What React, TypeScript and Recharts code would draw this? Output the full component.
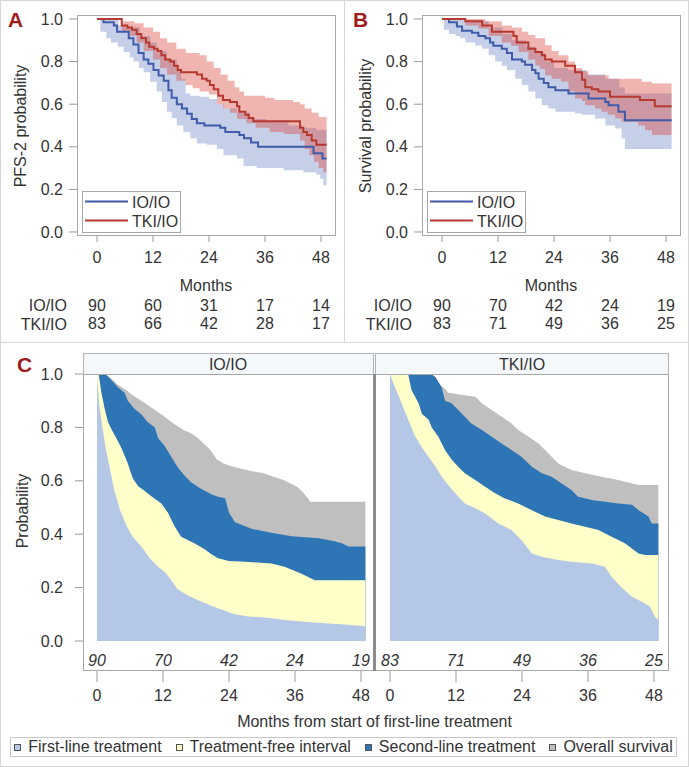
import React from "react";
import { ComposedChart, Area, Line, XAxis, YAxis } from "recharts";

type Pt = [number, number];

const FONT = '"Liberation Sans", Arial, Helvetica, sans-serif';
const TEXT = "#333333";
const TICK = "#9a9a9a";
const FRAME = "#a8a8a8";
const LETTER = "#a01c1c";

const IO_LINE = "#3f5ba9";
const TKI_LINE = "#b5392f";
const IO_BAND = "#6f86c6";
const TKI_BAND = "#d9453d";

const C_FIRST = "#b4c7e7";
const C_TFI = "#ffffc9";
const C_SECOND = "#2e75b6";
const C_OS = "#bfbfbf";

const monthTicks = [0, 12, 24, 36, 48];
const probTicks = [0, 0.2, 0.4, 0.6, 0.8, 1.0];
const arms = ["IO/IO", "TKI/IO"];

// ---------- Panel A : PFS-2 ----------
const pfsRiskIO = [90, 60, 31, 17, 14];
const pfsRiskTKI = [83, 66, 42, 28, 17];
const pfsIO: Pt[] = [[0,1],[1.4,0.985],[3.6,0.97],[4.3,0.94],[6.8,0.91],[7.8,0.88],[8.9,0.84],[10,0.81],[11,0.79],[12.1,0.76],[13.2,0.735],[14.3,0.71],[15.3,0.665],[16,0.63],[17.1,0.6],[18.2,0.58],[19.3,0.555],[20.3,0.53],[21.4,0.51],[23,0.5],[26.4,0.49],[27.5,0.47],[30.5,0.455],[31.5,0.44],[33,0.42],[34.5,0.4],[46.4,0.37],[48.3,0.345],[49.2,0.345]];
const pfsIOLow: Pt[] = [[0,1],[0.7,0.94],[2,0.91],[3,0.89],[4.5,0.87],[5.7,0.845],[7,0.82],[7.8,0.8],[9,0.77],[10,0.75],[11.4,0.705],[12.8,0.66],[13.9,0.61],[15,0.565],[16,0.535],[17.1,0.5],[18.5,0.47],[20,0.44],[21.4,0.415],[23.5,0.41],[25.7,0.39],[27.1,0.36],[30,0.345],[31.4,0.31],[34.2,0.3],[40,0.29],[44.2,0.28],[47,0.27],[47.8,0.25],[48.5,0.22],[49.2,0.22]];
const pfsIOHigh: Pt[] = [[0,1],[4.6,0.97],[6,0.96],[9.2,0.92],[11.4,0.89],[12.8,0.85],[15,0.81],[17.1,0.76],[18,0.72],[19,0.65],[20,0.64],[22,0.635],[24,0.625],[25.7,0.6],[27.1,0.58],[30,0.56],[32.8,0.53],[36.4,0.52],[41,0.5],[44,0.49],[47,0.48],[49.2,0.47]];
const pfsTKI: Pt[] = [[0,1],[5.3,0.97],[6.5,0.96],[7.5,0.95],[8.5,0.93],[9.5,0.91],[10.5,0.89],[11.2,0.87],[12.2,0.86],[13,0.85],[13.8,0.83],[14.6,0.81],[15.7,0.8],[16.5,0.78],[17.3,0.76],[18,0.75],[21.4,0.74],[22.5,0.72],[23.5,0.71],[24.2,0.69],[25,0.67],[26,0.64],[27,0.62],[28.5,0.61],[30,0.59],[30.5,0.565],[31.8,0.55],[32.5,0.535],[33.5,0.52],[43.5,0.49],[44.2,0.47],[45,0.455],[46,0.43],[47,0.41],[49.2,0.41]];
const pfsTKILow: Pt[] = [[0,1],[5.3,0.94],[7,0.92],[8.5,0.89],[10,0.85],[12,0.81],[13.5,0.77],[15,0.74],[17,0.71],[19,0.69],[20.5,0.675],[22,0.66],[24,0.645],[25.7,0.6],[27,0.58],[28.5,0.56],[30,0.53],[32,0.51],[34,0.49],[37,0.47],[40,0.46],[43.5,0.43],[44.5,0.39],[45.5,0.36],[46.5,0.33],[47.5,0.3],[48.5,0.28],[49.2,0.28]];
const pfsTKIHigh: Pt[] = [[0,1],[5.3,0.99],[8,0.98],[10,0.96],[12,0.94],[13.5,0.91],[15,0.89],[17,0.86],[19,0.84],[22,0.83],[23.5,0.8],[25,0.77],[26.5,0.74],[28,0.71],[29.5,0.68],[30.5,0.66],[31.5,0.64],[36,0.63],[38,0.62],[42,0.61],[43.5,0.6],[44.5,0.58],[46,0.56],[47.5,0.54],[49.2,0.53]];

// ---------- Panel B : overall survival ----------
const osRiskIO = [90, 70, 42, 24, 19];
const osRiskTKI = [83, 71, 49, 36, 25];
const osIO: Pt[] = [[0,1],[1.5,0.985],[3.2,0.965],[4.3,0.945],[6.4,0.935],[7.8,0.92],[9.3,0.91],[10.3,0.89],[11,0.875],[12.8,0.86],[13.9,0.84],[15,0.81],[17.1,0.8],[17.8,0.785],[19.3,0.76],[20,0.745],[20.7,0.72],[21.8,0.7],[22.8,0.68],[24.3,0.665],[27.1,0.65],[31.4,0.627],[35,0.61],[35.7,0.595],[37.8,0.565],[39.2,0.525],[49.2,0.525]];
const osIOLow: Pt[] = [[0,1],[0.4,0.95],[1.5,0.93],[2.9,0.92],[3.9,0.91],[5,0.89],[7.1,0.876],[8.6,0.86],[10,0.83],[11.4,0.8],[12.8,0.78],[13.9,0.76],[15.7,0.72],[17.1,0.69],[18.5,0.66],[20,0.627],[21.4,0.595],[22.8,0.58],[24.3,0.564],[28.5,0.556],[30,0.55],[32.8,0.533],[35,0.5],[37.1,0.486],[38.5,0.44],[39.2,0.39],[49.2,0.39]];
const osIOHigh: Pt[] = [[0,1],[3,1],[5,0.99],[10,0.96],[13,0.93],[15,0.9],[18,0.87],[20,0.84],[22,0.8],[24,0.77],[27,0.76],[31,0.74],[35,0.72],[38,0.68],[39.2,0.65],[49.2,0.65]];
const osTKI: Pt[] = [[0,1],[5,0.99],[8.6,0.97],[10.7,0.94],[15.3,0.92],[16,0.89],[18.5,0.86],[20,0.845],[21.4,0.83],[22.1,0.81],[23.5,0.8],[26.4,0.78],[28.5,0.75],[30,0.715],[30.7,0.68],[32.1,0.67],[33.5,0.66],[36,0.635],[42.4,0.62],[45.6,0.59],[49.2,0.59]];
const osTKILow: Pt[] = [[0,1],[5,0.97],[7.8,0.955],[10,0.92],[12.8,0.89],[14.8,0.875],[16.4,0.845],[18.5,0.81],[20,0.78],[21,0.765],[22.1,0.736],[23.5,0.72],[25.5,0.705],[27.1,0.66],[28.5,0.627],[30,0.615],[30.7,0.595],[32.8,0.58],[34.2,0.564],[35.5,0.55],[37.1,0.533],[38.5,0.517],[42,0.5],[43.5,0.478],[45,0.455],[49.2,0.455]];
const osTKIHigh: Pt[] = [[0,1],[9.3,0.99],[12.8,0.97],[15,0.96],[17.1,0.94],[18.5,0.925],[20,0.91],[22.1,0.877],[23.5,0.85],[25,0.83],[27.1,0.8],[28.5,0.77],[30,0.755],[31.4,0.736],[35.7,0.72],[42.8,0.705],[45,0.697],[49.2,0.697]];

// ---------- Panel C : treatment states (cumulative upper bounds) ----------
const stateRiskIO = [90, 70, 42, 24, 19];
const stateRiskTKI = [83, 71, 49, 36, 25];
const stateNames = ["First-line treatment", "Treatment-free interval", "Second-line treatment", "Overall survival"];

const firstLineIO: Pt[] = [[0,1],[0.1,0.96],[0.5,0.87],[1,0.8],[1.6,0.72],[2.3,0.65],[3.2,0.56],[4.2,0.49],[5.4,0.43],[6.5,0.39],[8,0.355],[9.6,0.31],[11,0.28],[12.5,0.255],[13.6,0.225],[14.6,0.195],[16.5,0.17],[18.7,0.15],[21,0.13],[23,0.115],[25,0.1],[27.5,0.092],[31,0.087],[35,0.077],[40,0.068],[45,0.062],[48.8,0.055]];
const tfiIO: Pt[] = [[0,1],[0.3,1],[0.8,0.93],[1.4,0.87],[2,0.82],[2.7,0.79],[3.5,0.76],[4.5,0.72],[5.5,0.67],[6.5,0.61],[7.5,0.58],[8.5,0.565],[10,0.54],[11.7,0.515],[12.9,0.48],[14.1,0.43],[15.3,0.39],[17.7,0.366],[19.5,0.345],[20.8,0.325],[22,0.31],[24,0.3],[26.8,0.297],[31.7,0.29],[34.1,0.278],[37.1,0.253],[39.6,0.228],[48.8,0.228]];
const secondLineIO: Pt[] = [[0,1],[1.5,1],[2.5,0.98],[3.8,0.95],[5,0.93],[5.6,0.9],[6.8,0.87],[8,0.85],[9.2,0.82],[10.5,0.8],[11.1,0.76],[12.3,0.73],[13.5,0.69],[14.7,0.65],[15.9,0.62],[17.1,0.595],[18.9,0.57],[20.8,0.55],[22,0.54],[23.3,0.535],[24,0.48],[25.1,0.445],[28.1,0.42],[31.7,0.405],[35.4,0.392],[40.3,0.385],[43,0.375],[44.5,0.366],[45.7,0.354],[48.8,0.354]];
const survivalIO: Pt[] = [[0,1],[1.5,1],[2.5,0.985],[3.8,0.96],[5.3,0.94],[6.5,0.92],[8.4,0.895],[10.2,0.87],[12,0.845],[13.9,0.815],[15.7,0.79],[16.9,0.78],[18.1,0.765],[19.4,0.74],[20.6,0.715],[21.8,0.68],[23,0.665],[24.8,0.653],[27.2,0.64],[30.3,0.628],[32.1,0.615],[33.9,0.603],[35.2,0.59],[36.4,0.578],[37.6,0.553],[38.8,0.522],[48.8,0.522]];

const firstLineTKI: Pt[] = [[0,1],[0.9,0.95],[2.1,0.89],[3.3,0.83],[4.5,0.77],[5.8,0.725],[7,0.69],[8.2,0.655],[9.4,0.615],[11.2,0.568],[13.6,0.515],[15.5,0.497],[17.3,0.478],[19.7,0.44],[22.1,0.416],[23.9,0.378],[25.8,0.328],[27.6,0.316],[30.6,0.303],[33,0.297],[36.7,0.29],[39.1,0.278],[40.3,0.24],[42.1,0.2],[44,0.166],[45.8,0.147],[47.3,0.128],[48.2,0.09],[48.8,0.079]];
const tfiTKI: Pt[] = [[0,1],[3.3,1],[3.9,0.94],[5.2,0.89],[5.8,0.85],[7,0.83],[7.6,0.8],[8.8,0.765],[10,0.715],[11.2,0.68],[12.4,0.653],[13.6,0.628],[15.5,0.603],[17.3,0.578],[19.1,0.553],[20.9,0.534],[23.3,0.515],[25.8,0.49],[28.2,0.466],[30.6,0.453],[33,0.44],[35.5,0.428],[37.9,0.416],[40.3,0.39],[42.7,0.366],[45.2,0.328],[46.4,0.322],[48.8,0.322]];
const secondLineTKI: Pt[] = [[0,1],[7.5,1],[8.2,0.99],[9.4,0.95],[10,0.9],[11.2,0.89],[12.4,0.865],[13.6,0.84],[14.8,0.815],[16.7,0.79],[18.5,0.765],[20.3,0.74],[22.1,0.715],[23.9,0.69],[25.8,0.653],[27.6,0.628],[29.4,0.615],[31.2,0.59],[33,0.566],[34.2,0.54],[36.7,0.528],[39.1,0.522],[41.5,0.515],[44,0.51],[45.2,0.49],[47,0.466],[47.6,0.44],[48.8,0.44]];
const survivalTKI: Pt[] = [[0,1],[5,1],[8.2,0.99],[9.1,0.96],[10,0.945],[10.6,0.93],[15.5,0.915],[16.7,0.89],[18.5,0.865],[20.3,0.84],[22.1,0.815],[23.3,0.79],[25.2,0.765],[27,0.74],[28.2,0.715],[29.4,0.69],[30.6,0.665],[31.8,0.653],[33,0.64],[35.5,0.628],[38.5,0.615],[41.5,0.603],[44,0.59],[45.2,0.584],[48.8,0.584]];

// ---------- helpers ----------
const stepAt = (s: Pt[], x: number) => {
  let v = s[0][1];
  for (const [px, py] of s) {
    if (px <= x) v = py;
    else break;
  }
  return v;
};
const toRows = (s: Pt[]) => s.map(([x, y]) => ({ x, y }));
const toBand = (lo: Pt[], hi: Pt[]) => {
  const xs = Array.from(new Set([...lo, ...hi].map((p) => p[0]))).sort((a, b) => a - b);
  return xs.map((x) => ({ x, band: [stepAt(lo, x), stepAt(hi, x)] }));
};
const fmt1 = (v: number) => v.toFixed(1);

// ---------- KM panel (A / B) ----------
const KM_W = 345;
const KM_H = 342;
const KM_L = 77;
const KM_T = 15;
const KM_R = 335;
const KM_B = 235;

type KMProps = {
  ox: number;
  letter: string;
  yTitle: string;
  io: Pt[]; ioLo: Pt[]; ioHi: Pt[];
  tki: Pt[]; tkiLo: Pt[]; tkiHi: Pt[];
  riskIO: number[]; riskTKI: number[];
};

function KMPanel(p: KMProps) {
  const tick = (props: any) => {
    const { x, y, payload } = props;
    const i = monthTicks.indexOf(payload.value);
    return (
      <g fontFamily={FONT} fontSize={16} fill={TEXT}>
        <text x={x} y={y + 18} textAnchor="middle" fill={TEXT}>{payload.value}</text>
        <text x={x} y={y + 66} textAnchor="middle" fill={TEXT}>{p.riskIO[i]}</text>
        <text x={x} y={y + 84} textAnchor="middle" fill={TEXT}>{p.riskTKI[i]}</text>
      </g>
    );
  };
  const midX = (KM_L + KM_R) / 2;
  return (
    <div style={{ position: "absolute", left: p.ox, top: 0, width: KM_W, height: KM_H }}>
      <ComposedChart width={KM_W} height={KM_H} margin={{ top: KM_T, right: KM_W - KM_R, bottom: 0, left: 0 }}>
        <XAxis type="number" dataKey="x" domain={[-4.29, 51.0]} ticks={monthTicks} interval={0} allowDataOverflow
          axisLine={false} tickLine={{ stroke: TICK }} tickSize={7} tickMargin={3} height={KM_H - KM_B} tick={tick} />
        <YAxis type="number" domain={[-0.0141, 1.0188]} ticks={probTicks} interval={0} allowDataOverflow width={KM_L}
          axisLine={false} tickLine={{ stroke: TICK }} tickSize={8} tickMargin={6} tickFormatter={fmt1}
          tick={{ fill: TEXT, fontSize: 16, fontFamily: FONT }} />
        <Area data={toBand(p.ioLo, p.ioHi)} dataKey="band" type="stepAfter" fill={IO_BAND} fillOpacity={0.4}
          stroke="none" isAnimationActive={false} activeDot={false} />
        <Area data={toBand(p.tkiLo, p.tkiHi)} dataKey="band" type="stepAfter" fill={TKI_BAND} fillOpacity={0.4}
          stroke="none" isAnimationActive={false} activeDot={false} />
        <Line data={toRows(p.io)} dataKey="y" type="stepAfter" stroke={IO_LINE} strokeWidth={2} dot={false}
          activeDot={false} isAnimationActive={false} />
        <Line data={toRows(p.tki)} dataKey="y" type="stepAfter" stroke={TKI_LINE} strokeWidth={2} dot={false}
          activeDot={false} isAnimationActive={false} />
      </ComposedChart>
      <svg width={KM_W} height={KM_H} style={{ position: "absolute", left: 0, top: 0, pointerEvents: "none" }}
        fontFamily={FONT} fontSize={16}>
        <rect x={KM_L + 0.5} y={KM_T + 0.5} width={KM_R - KM_L} height={KM_B - KM_T} fill="none" stroke={FRAME} />
        <rect x={82.5} y={191.5} width={98} height={41} fill="#ffffff" stroke={FRAME} />
        <line x1={85} x2={128} y1={201.5} y2={201.5} stroke={IO_LINE} strokeWidth={2} />
        <line x1={85} x2={128} y1={220.5} y2={220.5} stroke={TKI_LINE} strokeWidth={2} />
        <text x={132} y={207.5} fill={TEXT}>{arms[0]}</text>
        <text x={132} y={226.5} fill={TEXT}>{arms[1]}</text>
        <text x={8} y={27} fill={LETTER} fontSize={21} fontWeight="bold">{p.letter}</text>
        <text transform={`translate(25.5, 126) rotate(-90)`} textAnchor="middle" fill={TEXT}>{p.yTitle}</text>
        <text x={midX} y={291} textAnchor="middle" fill={TEXT}>Months</text>
        <text x={67} y={310.7} textAnchor="end" fill={TEXT}>{arms[0]}</text>
        <text x={67} y={329.5} textAnchor="end" fill={TEXT}>{arms[1]}</text>
      </svg>
    </div>
  );
}

// ---------- State facet (C) ----------
type FacetProps = {
  left: number;
  width: number;
  marginLeft: number;
  showY: boolean;
  xDomain: [number, number];
  first: Pt[]; tfi: Pt[]; second: Pt[]; os: Pt[];
  risk: number[];
};
const C_TOP = 343;
const C_H = 380;

function StateFacet(f: FacetProps) {
  const tick = (props: any) => {
    const { x, y, payload } = props;
    const i = monthTicks.indexOf(payload.value);
    return (
      <g fontFamily={FONT} fontSize={16}>
        <text x={x} y={y + 12.7} textAnchor="middle" fill={TEXT}>{payload.value}</text>
        <text x={x} y={y - 22.3} textAnchor="middle" fill={TEXT} fontStyle="italic">{f.risk[i]}</text>
      </g>
    );
  };
  const layer = (s: Pt[], color: string) => (
    <Area data={toRows(s)} dataKey="y" type="linear" fill={color} fillOpacity={1} stroke="none" baseValue={0}
      isAnimationActive={false} activeDot={false} />
  );
  return (
    <div style={{ position: "absolute", left: f.left, top: C_TOP, width: f.width, height: C_H }}>
      <ComposedChart width={f.width} height={C_H} margin={{ top: 31, right: 7, bottom: 0, left: f.marginLeft }}>
        <XAxis type="number" dataKey="x" domain={f.xDomain} ticks={monthTicks} interval={0} allowDataOverflow
          axisLine={false} tickLine={{ stroke: TICK }} tickSize={12} tickMargin={6} height={53} tick={tick} />
        {f.showY ? (
          <YAxis type="number" domain={[-0.1086, 1.0]} ticks={probTicks} interval={0} allowDataOverflow width={83}
            axisLine={false} tickLine={{ stroke: TICK }} tickSize={8} tickMargin={12} tickFormatter={fmt1}
            tick={{ fill: TEXT, fontSize: 16, fontFamily: FONT }} />
        ) : (
          <YAxis type="number" domain={[-0.1086, 1.0]} allowDataOverflow hide />
        )}
        {layer(f.os, C_OS)}
        {layer(f.second, C_SECOND)}
        {layer(f.tfi, C_TFI)}
        {layer(f.first, C_FIRST)}
      </ComposedChart>
    </div>
  );
}

const legendColors = [C_FIRST, C_TFI, C_SECOND, C_OS];

export default function App() {
  return (
    <div style={{ position: "absolute", left: 0, top: 0, width: 689, height: 767, background: "#ffffff", fontFamily: FONT, overflow: "hidden" }}>
      <KMPanel ox={0} letter="A" yTitle="PFS-2 probability" io={pfsIO} ioLo={pfsIOLow} ioHi={pfsIOHigh}
        tki={pfsTKI} tkiLo={pfsTKILow} tkiHi={pfsTKIHigh} riskIO={pfsRiskIO} riskTKI={pfsRiskTKI} />
      <KMPanel ox={345} letter="B" yTitle="Survival probability" io={osIO} ioLo={osIOLow} ioHi={osIOHigh}
        tki={osTKI} tkiLo={osTKILow} tkiHi={osTKIHigh} riskIO={osRiskIO} riskTKI={osRiskTKI} />

      <StateFacet left={0} width={380} marginLeft={0} showY xDomain={[-2.545, 50.18]}
        first={firstLineIO} tfi={tfiIO} second={secondLineIO} os={survivalIO} risk={stateRiskIO} />
      <StateFacet left={370} width={305} marginLeft={5} showY={false} xDomain={[-2.73, 50.55]}
        first={firstLineTKI} tfi={tfiTKI} second={secondLineTKI} os={survivalTKI} risk={stateRiskTKI} />

      <svg width={689} height={767} style={{ position: "absolute", left: 0, top: 0, pointerEvents: "none" }}
        fontFamily={FONT} fontSize={16}>
        <rect x={0.5} y={0.5} width={688} height={766} fill="none" stroke="#d6d6d6" />
        <line x1={344.5} x2={344.5} y1={0} y2={342} stroke="#d6d6d6" />
        <line x1={0} x2={689} y1={342.5} y2={342.5} stroke="#d6d6d6" />

        <text x={17} y={372} fill={LETTER} fontSize={21} fontWeight="bold">C</text>
        <rect x={83.5} y={353.5} width={290} height={21} fill="#f4f8fb" stroke="#b4b4b4" />
        <rect x={375.5} y={353.5} width={293} height={21} fill="#f4f8fb" stroke="#b4b4b4" />
        <text x={228} y={369.5} textAnchor="middle" fill={TEXT}>{arms[0]}</text>
        <text x={522} y={369.5} textAnchor="middle" fill={TEXT}>{arms[1]}</text>
        <rect x={83.5} y={374.5} width={290} height={296} fill="none" stroke={FRAME} />
        <rect x={375.5} y={374.5} width={293} height={296} fill="none" stroke={FRAME} />
        <rect x={373} y={374} width={3} height={297} fill="#8c8c8c" />
        <text transform="translate(27.5, 511) rotate(-90)" textAnchor="middle" fill={TEXT}>Probability</text>
        <text x={374.5} y={726.5} textAnchor="middle" fill={TEXT}>Months from start of first-line treatment</text>
      </svg>

      <div style={{ position: "absolute", left: 10, top: 737, width: 667, height: 20, boxSizing: "border-box",
        border: "1px solid #c8c8c8", background: "#ffffff", display: "flex", alignItems: "center",
        justifyContent: "center", gap: 14, fontSize: 16, color: TEXT, whiteSpace: "nowrap" }}>
        {stateNames.map((name, i) => (
          <div key={name} style={{ display: "flex", alignItems: "center", gap: 7 }}>
            <span style={{ display: "inline-block", width: 7, height: 7, boxSizing: "border-box",
              border: "1px solid #555555", background: legendColors[i] }} />
            <span style={{ lineHeight: "18px" }}>{name}</span>
          </div>
        ))}
      </div>
    </div>
  );
}
